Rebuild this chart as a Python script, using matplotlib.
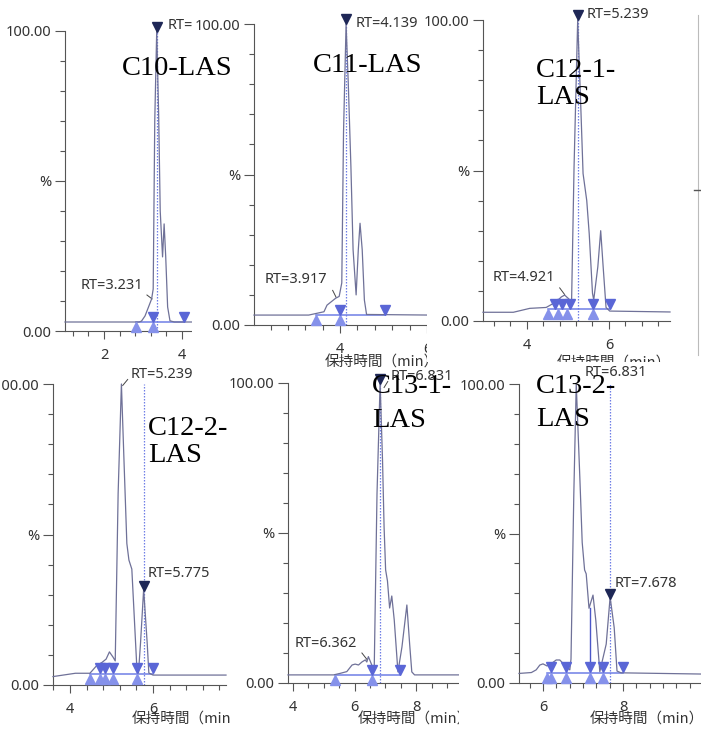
import matplotlib.pyplot as plt
from matplotlib.ticker import MultipleLocator

plt.rcParams['font.family'] = ['Noto Sans', 'Noto Sans CJK JP', 'DejaVu Sans']

W, H = 701, 738

# ---- traces (retention time in min, intensity in %) ----
c10_t = [1.00, 2.90, 2.96, 3.05, 3.14, 3.22, 3.26, 3.30, 3.35, 3.40, 3.44, 3.50, 3.54, 3.58, 3.63, 3.69, 3.80, 4.28]
c10_y = [3.0, 3.0, 3.3, 5.0, 8.0, 10.7, 14.0, 70.0, 100.0, 72.0, 40.0, 24.7, 35.7, 25.0, 8.0, 3.4, 3.0, 3.0]

c11_t = [2.02, 3.28, 3.63, 3.70, 3.90, 3.98, 4.04, 4.08, 4.139, 4.19, 4.25, 4.30, 4.37, 4.42, 4.46, 4.51, 4.56, 4.61, 6.07]
c11_y = [3.3, 3.3, 4.4, 6.6, 8.9, 9.5, 14.0, 64.0, 100.0, 80.0, 52.6, 25.0, 10.0, 25.0, 33.8, 25.0, 8.3, 3.5, 3.3]

c121_t = [2.93, 3.67, 4.07, 4.47, 4.72, 4.84, 4.921, 5.01, 5.09, 5.15, 5.239, 5.31, 5.37, 5.46, 5.52,
          5.60, 5.63, 5.73, 5.80, 5.86, 5.93, 6.02, 7.49]
c121_y = [2.9, 2.9, 4.2, 4.5, 6.4, 8.0, 8.6, 7.5, 6.4, 51.0, 100.0, 73.0, 49.0, 40.0, 29.0,
          9.2, 7.0, 18.0, 30.0, 18.0, 4.5, 3.3, 3.0]

c122_t = [3.59, 4.13, 4.48, 4.64, 4.77, 4.87, 4.95, 5.04, 5.09, 5.16, 5.239, 5.30, 5.37, 5.42, 5.49,
          5.54, 5.61, 5.65, 5.70, 5.775, 5.86, 5.90, 6.00, 7.76]
c122_y = [2.8, 3.9, 3.9, 6.4, 7.5, 8.6, 11.0, 9.2, 8.0, 63.7, 100.0, 75.0, 47.0, 41.5, 38.5,
          25.0, 6.0, 4.0, 14.0, 31.8, 14.0, 4.0, 3.3, 3.3]

c131_t = [3.84, 5.32, 5.53, 5.75, 5.92, 6.02, 6.13, 6.24, 6.35, 6.40, 6.45, 6.56, 6.64, 6.73, 6.831,
          6.91, 6.96, 7.01, 7.07, 7.14, 7.21, 7.29, 7.41, 7.54, 7.70, 7.79, 7.86, 7.95, 9.75]
c131_y = [2.7, 2.7, 3.2, 3.8, 6.0, 6.3, 6.0, 7.0, 7.7, 7.0, 8.8, 6.0, 4.8, 63.0, 100.0,
          74.0, 52.0, 37.7, 34.0, 25.0, 29.0, 21.0, 3.7, 12.0, 26.0, 13.0, 3.7, 2.7, 2.7]

c132_t = [5.40, 5.71, 5.83, 5.92, 6.00, 6.10, 6.20, 6.33, 6.42, 6.54, 6.67, 6.70, 6.77, 6.831, 6.92,
          6.98, 7.04, 7.08, 7.15, 7.25, 7.32, 7.42, 7.58, 7.678, 7.78, 7.85, 7.95, 9.95]
c132_y = [3.2, 3.5, 4.4, 6.0, 6.4, 5.7, 6.4, 7.7, 7.7, 6.0, 4.4, 8.0, 63.0, 100.0, 69.0,
          47.0, 37.8, 36.5, 25.0, 29.4, 21.0, 3.8, 13.0, 28.7, 18.5, 4.0, 3.4, 3.0]

# ---- integration marks: peak starts (up) and ends (down) ----
c10_starts, c10_ends = [2.82, 3.26], [3.26, 4.05]
c11_starts, c11_ends = [3.45, 4.00], [4.00, 5.03]
c121_starts, c121_ends = [4.52, 4.76, 4.97, 5.62], [4.68, 4.85, 5.05, 5.62, 6.02]
c122_starts, c122_ends = [4.48, 4.72, 4.84, 5.04, 5.61], [4.72, 4.84, 5.04, 5.62, 6.00]
c131_starts, c131_ends = [5.37, 6.56], [6.56, 7.48]
c132_starts, c132_ends = [6.10, 6.21, 6.57, 7.18, 7.50], [6.21, 6.57, 7.18, 7.50, 8.00]
baselines = [3.0, 3.3, 4.0, 3.8, 2.8, 3.5]

names = ["C10-LAS", "C11-LAS", "C12-1-\nLAS", "C12-2-\nLAS", "C13-1-\nLAS", "C13-2-\nLAS"]
apex_rt = [3.355, 4.139, 5.239, 5.775, 6.831, 7.678]
apex_y = [100.0, 100.0, 100.0, 31.8, 100.0, 28.7]
top_rt_label = ["RT=3.355", "RT=4.139", "RT=5.239", "RT=5.239", "RT=6.831", "RT=6.831"]
small_rt_label = ["RT=3.231", "RT=3.917", "RT=4.921", "RT=5.775", "RT=6.362", "RT=7.678"]
xlabel = "保持時間（min）"

TRACE = '#6f7198'
START = '#8591ea'
END = '#5a66d6'
APEX = '#1e2756'
BASE = '#6f7ee6'
AXC = '#555555'
TXT = '#333333'

# layout in pixels: crop box of each screenshot, plot box, x range, minor tick step
layout = [
    dict(crop=(0, 0, 192, 360), box=(65, 31, 193, 331), xlim=(1.00, 4.28), minor=0.4,
         name_at=(122, 75, 0), xl_at=None,
         top_at=(3.62, 101.7), small_at=(1.41, 15.3), lead=((3.10, 12.0), (3.23, 10.7))),
    dict(crop=(192, 0, 427, 370), box=(254, 24, 430, 325), xlim=(2.02, 6.07), minor=0.4,
         name_at=(313, 72, 0), xl_at=(325, 363),
         top_at=(4.37, 100.3), small_at=(2.27, 15.0), lead=((3.83, 11.5), (3.91, 9.2))),
    dict(crop=(427, 0, 701, 362), box=(483, 20, 670, 321), xlim=(2.93, 7.49), minor=0.4,
         name_at=(536, 77, 26.7), xl_at=(557, 364),
         top_at=(5.46, 101.7), small_at=(3.17, 14.3), lead=((4.80, 11.0), (4.92, 8.8))),
    dict(crop=(0, 360, 230, 738), box=(53, 384, 226, 685), xlim=(3.59, 7.76), minor=0.4,
         name_at=(148, 435, 26.7), xl_at=(132, 720),
         top_at=(5.47, 103.0), small_at=(5.86, 37.2), lead=None),
    dict(crop=(230, 370, 459, 738), box=(288, 383, 470, 683), xlim=(3.84, 9.75), minor=0.5,
         name_at=(372, 393, 34), xl_at=(358, 720),
         top_at=(7.16, 102.0), small_at=(4.07, 13.3), lead=((6.24, 10.0), (6.40, 7.9))),
    dict(crop=(459, 362, 701, 738), box=(519, 384, 701, 683), xlim=(5.40, 9.95), minor=1 / 3,
         name_at=(536, 393, 33), xl_at=(590, 720),
         top_at=(7.04, 103.7), small_at=(7.79, 33.4), lead=None),
]

traces = [(c10_t, c10_y), (c11_t, c11_y), (c121_t, c121_y),
          (c122_t, c122_y), (c131_t, c131_y), (c132_t, c132_y)]
marks = [(c10_starts, c10_ends), (c11_starts, c11_ends), (c121_starts, c121_ends),
         (c122_starts, c122_ends), (c131_starts, c131_ends), (c132_starts, c132_ends)]


def rect(x0, y0, x1, y1):
    return [x0 / W, 1 - y1 / H, (x1 - x0) / W, (y1 - y0) / H]


def fig_xy(x, y):
    return x / W, 1 - y / H


fig = plt.figure(figsize=(W / 100, H / 100), dpi=100)

for i, lay in enumerate(layout):
    # white sheet of the screenshot, later sheets lie over earlier ones
    bg = fig.add_axes(rect(*lay['crop']))
    bg.set_xticks([])
    bg.set_yticks([])
    for s in bg.spines.values():
        s.set_visible(False)

    ax = fig.add_axes(rect(*lay['box']))
    ax.patch.set_alpha(0)
    t, y = traces[i]
    starts, ends = marks[i]
    base = baselines[i]

    ax.plot(t, y, color=TRACE, lw=0.9, clip_on=False, zorder=3)
    ax.plot([starts[0], ends[-1]], [base, base], color=BASE, lw=1.1, zorder=2)
    ax.plot([apex_rt[i], apex_rt[i]], [0, 100], color=BASE, lw=0.9,
            ls=(0, (1.2, 1.2)), zorder=2)
    ax.plot(starts, [base - 1.8] * len(starts), ls='none', marker='^', ms=6.5,
            color=START, zorder=4, clip_on=False)
    ax.plot(ends, [base + 1.7] * len(ends), ls='none', marker='v', ms=6.5,
            color=END, zorder=4, clip_on=False)

    lift = 1.2 if i in (3, 5) else 1.5
    ax.plot([apex_rt[i]], [apex_y[i] + lift], ls='none', marker='v', ms=7,
            color=APEX, zorder=5, clip_on=False)
    ax.text(lay['small_at'][0], lay['small_at'][1], small_rt_label[i], fontsize=10.5,
            color=TXT, va='center', ha='left')
    if lay['lead'] is not None:
        (x0, y0), (x1, y1) = lay['lead']
        ax.plot([x0, x1], [y0, y1], color='#444444', lw=0.7, clip_on=False)

    if i == 5:
        # drop line between the fused peaks
        ax.plot([7.18, 7.18], [25.0, base + 1.0], color='#4a56c8', lw=1.0, zorder=3)

    ax.text(lay['top_at'][0], lay['top_at'][1], top_rt_label[i], fontsize=10.5,
            color=TXT, va='center', ha='left', clip_on=False)
    if i in (3, 4):
        ax.plot([lay['top_at'][0] - 0.08, lay['top_at'][0] - 0.2],
                [lay['top_at'][1] - 1.5, lay['top_at'][1] - 3.5],
                color='#444444', lw=0.7, clip_on=False)

    ax.set_xlim(*lay['xlim'])
    ax.set_ylim(0, 100)
    ax.xaxis.set_major_locator(MultipleLocator(2))
    ax.xaxis.set_minor_locator(MultipleLocator(lay['minor']))
    ax.xaxis.set_major_formatter(plt.FuncFormatter(lambda v, p: f"{v:.0f}"))
    ax.set_yticks([0, 50, 100])
    ax.set_yticklabels(['0.00', '%', '100.00'])
    ax.yaxis.set_minor_locator(MultipleLocator(10))
    ax.tick_params(axis='y', which='major', length=7, width=0.8, pad=3,
                   labelsize=10.5, color=AXC, labelcolor=TXT)
    ax.tick_params(axis='y', which='minor', length=3.5, width=0.8, color=AXC)
    ax.tick_params(axis='x', which='major', length=6, width=0.8, pad=6,
                   labelsize=10.5, color=AXC, labelcolor=TXT)
    ax.tick_params(axis='x', which='minor', length=3.5, width=0.8, color=AXC)
    for side in ('top', 'right'):
        ax.spines[side].set_visible(False)
    for side in ('left', 'bottom'):
        ax.spines[side].set_color(AXC)
        ax.spines[side].set_linewidth(0.8)

    if lay['xl_at'] is not None:
        ax.text(*fig_xy(*lay['xl_at']), xlabel, transform=fig.transFigure,
                family=['Noto Sans CJK JP', 'DejaVu Sans'], fontsize=10.5,
                color=TXT, va='center', ha='left')

    if i == 2:
        # edge of the neighbouring screenshot
        bg.plot([698 / W, 698 / W], [1 - 15 / H, 1 - 355 / H], color='#bbbbbb', lw=0.8,
                transform=fig.transFigure)
        bg.plot([694 / W, 701 / W], [1 - 190 / H, 1 - 190 / H], color='#555555', lw=1.0,
                transform=fig.transFigure)

# compound names sit on top of every panel
for i, lay in enumerate(layout):
    nx, ny, step = lay['name_at']
    for k, line in enumerate(names[i].split('\n')):
        fig.text(*fig_xy(nx, ny + k * step), line, family='Liberation Serif',
                 fontsize=20.5, color='black', va='baseline', ha='left', zorder=10)

fig.savefig('out.png', dpi=100)
